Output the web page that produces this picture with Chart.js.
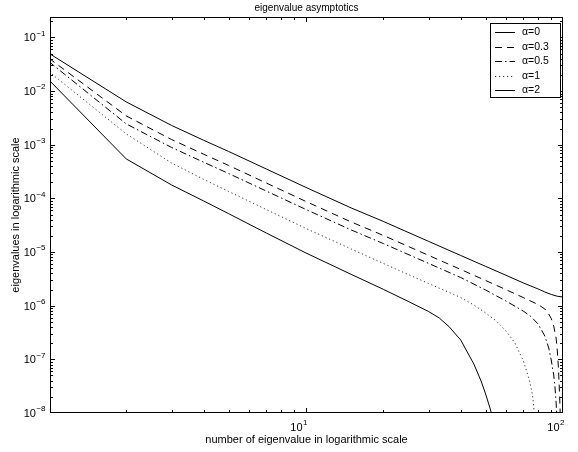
<!DOCTYPE html>
<html>
<head>
<meta charset="utf-8">
<script src="https://cdn.jsdelivr.net/npm/chart.js@4"></script>
<style>
  body { margin: 0; background: #fff; }
  #wrap { width: 578px; height: 452px; }
</style>
</head>
<body>
<div id="wrap"><canvas id="eigChart" width="578" height="452"></canvas></div>
<script>
// values (n = eigenvalue number)
const nAlpha0 = [1, 2, 3, 4, 5, 7, 10, 15, 20, 30, 40, 50, 60, 70, 80, 85, 90, 95, 100];
const alpha0 = [0.0507, 0.00627, 0.00229, 0.00121, 0.000749, 0.000354, 0.000160, 6.63e-5, 3.72e-5, 1.58e-5, 8.63e-6, 5.40e-6, 3.69e-6, 2.66e-6, 2.05e-6, 1.80e-6, 1.62e-6, 1.50e-6, 1.45e-6];

const nAlpha03 = [1, 2, 3, 4, 5, 7, 10, 15, 20, 30, 40, 50, 60, 70, 80, 85, 88, 90, 92, 94, 95, 96, 97, 98];
const alpha03 = [0.0410, 0.00344, 0.00125, 0.000665, 0.000411, 0.000194, 8.76e-5, 3.63e-5, 2.04e-5, 8.66e-6, 4.73e-6, 2.95e-6, 1.99e-6, 1.42e-6, 1.05e-6, 8.68e-7, 7.00e-7, 5.77e-7, 4.18e-7, 2.50e-7, 1.49e-7, 6.90e-8, 2.16e-8, 4.82e-9];

const nAlpha05 = [1, 2, 3, 4, 5, 7, 10, 15, 20, 30, 40, 50, 60, 70, 75, 80, 85, 88, 90, 92, 93, 94, 95];
const alpha05 = [0.0354, 0.00244, 0.000890, 0.000472, 0.000291, 0.0001375, 6.21e-5, 2.58e-5, 1.44e-5, 6.14e-6, 3.35e-6, 1.96e-6, 1.22e-6, 7.96e-7, 6.29e-7, 4.56e-7, 2.72e-7, 1.63e-7, 9.72e-8, 5.10e-8, 3.18e-8, 1.60e-8, 5.97e-9];

const nAlpha1 = [1, 2, 3, 4, 5, 7, 10, 15, 20, 30, 40, 45, 50, 55, 60, 65, 70, 74, 76, 77, 78];
const alpha1 = [0.0230, 0.00159, 0.000457, 0.000226, 0.000135, 6.21e-5, 2.75e-5, 1.14e-5, 6.12e-6, 2.59e-6, 1.42e-6, 1.03e-6, 7.31e-7, 5.19e-7, 3.38e-7, 2.02e-7, 9.51e-8, 4.12e-8, 2.26e-8, 1.29e-8, 3.1e-9];

const nAlpha2 = [1, 2, 3, 4, 5, 7, 10, 15, 20, 25, 30, 33, 36, 40, 45, 48, 50, 52, 53, 55];
const alpha2 = [0.0161, 0.000543, 0.000178, 8.95e-5, 5.19e-5, 2.27e-5, 9.60e-6, 3.83e-6, 2.02e-6, 1.20e-6, 7.79e-7, 5.90e-7, 4.09e-7, 2.29e-7, 8.19e-8, 3.95e-8, 2.26e-8, 1.24e-8, 8.78e-9, 3e-9];

const seriesLabels = ['α=0', 'α=0.3', 'α=0.5', 'α=1', 'α=2'];

// tick exponents shown as 10^k labels
const xTickExps = [1, 2];
const yTickExps = [-1, -2, -3, -4, -5, -6, -7, -8];
const xDecades = [0, 1];              // minor ticks 2..9 in these decades
const yDecades = [-8, -7, -6, -5, -4, -3, -2, -1];

const titleText = 'eigenvalue asymptotics';
const xTitle = 'number of eigenvalue in logarithmic scale';
const yTitle = 'eigenvalues in logarithmic scale';

const FONT = 'Liberation Sans, Arial, sans-serif';

function pts(xs, ys) {
  return xs.map((x, i) => ({ x: x, y: ys[i] }));
}

const styles = [
  { dash: [] },
  { dash: [7, 5] },
  { dash: [7, 3, 1.5, 3] },
  { dash: [1.2, 2.8] },
  { dash: [] }
];

const datasets = [
  pts(nAlpha0, alpha0),
  pts(nAlpha03, alpha03),
  pts(nAlpha05, alpha05),
  pts(nAlpha1, alpha1),
  pts(nAlpha2, alpha2)
].map((d, i) => ({
  label: seriesLabels[i],
  data: d,
  borderColor: i === 3 ? '#333' : '#000',
  borderWidth: 1,
  borderDash: styles[i].dash,
  pointRadius: 0,
  tension: 0,
  fill: false,
  clip: 0
}));

function drawPow(ctx, exp, rightX, midY) {
  ctx.font = '11px ' + FONT;
  const base = '10';
  const e = String(exp).replace('-', '\u2212');
  const wb = ctx.measureText(base).width;
  ctx.font = '8px ' + FONT;
  const we = ctx.measureText(e).width;
  const x0 = rightX - wb - we;
  ctx.textAlign = 'left';
  ctx.textBaseline = 'middle';
  ctx.font = '11px ' + FONT;
  ctx.fillText(base, x0, midY);
  ctx.font = '8px ' + FONT;
  ctx.fillText(e, x0 + wb + 0.5, midY - 5);
}

const matlabAxes = {
  id: 'matlabAxes',
  afterDraw(chart) {
    const ctx = chart.ctx;
    const a = chart.chartArea;
    const xs = chart.scales.x, ys = chart.scales.y;
    ctx.save();
    ctx.strokeStyle = '#000';
    ctx.fillStyle = '#000';
    ctx.lineWidth = 1;

    // box
    ctx.strokeRect(Math.round(a.left) + 0.5, Math.round(a.top) + 0.5,
      Math.round(a.right - a.left) - 1, Math.round(a.bottom - a.top) - 1);

    // ticks
    ctx.beginPath();
    const tickX = (v, len) => {
      const px = Math.round(xs.getPixelForValue(v)) + 0.5;
      if (px < a.left || px > a.right) return;
      ctx.moveTo(px, a.bottom); ctx.lineTo(px, a.bottom - len);
      ctx.moveTo(px, a.top); ctx.lineTo(px, a.top + len);
    };
    const tickY = (v, len) => {
      const py = Math.round(ys.getPixelForValue(v)) + 0.5;
      if (py < a.top || py > a.bottom) return;
      ctx.moveTo(a.left, py); ctx.lineTo(a.left + len, py);
      ctx.moveTo(a.right, py); ctx.lineTo(a.right - len, py);
    };
    xDecades.forEach(d => { for (let k = 2; k <= 9; k++) tickX(k * Math.pow(10, d), 3); });
    xTickExps.forEach(k => tickX(Math.pow(10, k), 5));
    yDecades.forEach(d => { for (let k = 2; k <= 9; k++) tickY(k * Math.pow(10, d), 3); });
    yTickExps.forEach(k => tickY(Math.pow(10, k), 5));
    ctx.stroke();

    // tick labels
    yTickExps.forEach(k => drawPow(ctx, k, a.left - 5, ys.getPixelForValue(Math.pow(10, k)) + 1));
    xTickExps.forEach(k => drawPow(ctx, k, xs.getPixelForValue(Math.pow(10, k)) + 1, a.bottom + 15));

    // titles
    const cx = (a.left + a.right) / 2;
    ctx.textAlign = 'center';
    ctx.textBaseline = 'middle';
    ctx.font = '10px ' + FONT;
    ctx.fillText(titleText, cx, 8);
    ctx.font = '11px ' + FONT;
    ctx.fillText(xTitle, cx, 440);
    ctx.save();
    ctx.translate(16, (a.top + a.bottom) / 2);
    ctx.rotate(-Math.PI / 2);
    ctx.fillText(yTitle, 0, 0);
    ctx.restore();

    // legend box
    const lx = 490, ly = 23, lw = 70, lh = 74, row = 14.5;
    ctx.fillStyle = '#fff';
    ctx.fillRect(lx, ly, lw, lh);
    ctx.strokeStyle = '#000';
    ctx.strokeRect(lx + 0.5, ly + 0.5, lw, lh);
    chart.data.datasets.forEach((ds, i) => {
      const y = Math.round(ly + 9 + i * row) + 0.5;
      ctx.beginPath();
      ctx.setLineDash(ds.borderDash);
      ctx.strokeStyle = ds.borderColor;
      ctx.moveTo(lx + 5, y);
      ctx.lineTo(lx + 25, y);
      ctx.stroke();
      ctx.setLineDash([]);
      ctx.fillStyle = '#000';
      ctx.font = '10.5px ' + FONT;
      ctx.textAlign = 'left';
      ctx.textBaseline = 'middle';
      ctx.fillText(ds.label, lx + 32, y);
    });
    ctx.restore();
  }
};

const ctx = document.getElementById('eigChart').getContext('2d');
new Chart(ctx, {
  type: 'line',
  data: { datasets },
  options: {
    responsive: false,
    animation: false,
    devicePixelRatio: 1,
    layout: { padding: { left: 50, right: 15, top: 17, bottom: 39 } },
    plugins: { legend: { display: false }, tooltip: { enabled: false } },
    scales: {
      x: { type: 'logarithmic', min: 1.01, max: 100, display: false },
      y: { type: 'logarithmic', min: 1e-8, max: 0.24, display: false }
    }
  },
  plugins: [matlabAxes]
});
</script>
</body>
</html>
